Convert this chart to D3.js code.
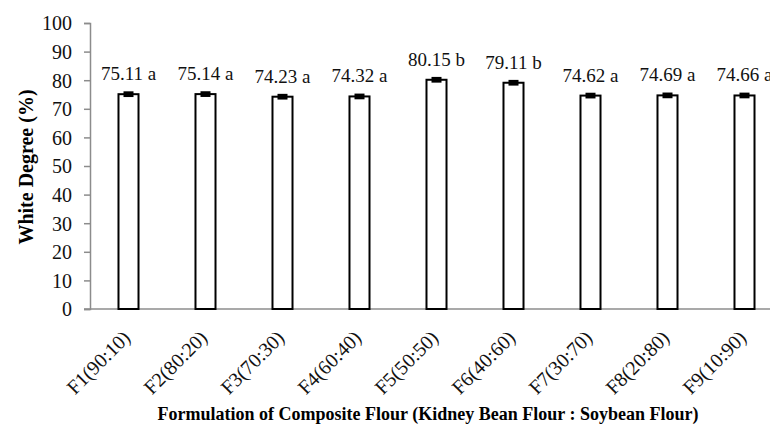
<!DOCTYPE html>
<html>
<head>
<meta charset="utf-8">
<script src="https://cdn.jsdelivr.net/npm/d3@7"></script>
<style>
  html, body { margin: 0; padding: 0; background: #fff; }
  svg { display: block; }
</style>
</head>
<body>
<svg id="chart" width="770" height="432"></svg>
<script>
// Whiteness of composite flour formulations
const categories = ["F1(90:10)", "F2(80:20)", "F3(70:30)", "F4(60:40)", "F5(50:50)",
                    "F6(40:60)", "F7(30:70)", "F8(20:80)", "F9(10:90)"];
const values = [75.11, 75.14, 74.23, 74.32, 80.15, 79.11, 74.62, 74.69, 74.66];
const errors = [1.0, 1.0, 1.0, 1.0, 1.0, 1.0, 1.0, 1.0, 1.0];
const letters = ["a", "a", "a", "a", "b", "b", "a", "a", "a"];
const yTicks = [0, 10, 20, 30, 40, 50, 60, 70, 80, 90, 100];

const FONT = "'Liberation Serif', 'Times New Roman', serif";
const svg = d3.select("#chart");
const plotLeft = 90, plotRight = 783, plotTop = 23, plotBottom = 309;

const x = d3.scaleBand().domain(categories).range([plotLeft, plotRight])
  .paddingInner(0.74).paddingOuter(0.37);
const y = d3.scaleLinear().domain([0, 100]).range([plotBottom, plotTop]);

const axisColor = "#8c8c8c";

// y axis
const yAxis = svg.append("g").attr("transform", `translate(${plotLeft},0)`)
  .call(d3.axisLeft(y).tickValues(yTicks).tickSize(6).tickPadding(12));
yAxis.attr("font-family", FONT);
yAxis.select(".domain").attr("stroke", axisColor).attr("stroke-width", 1.5);
yAxis.selectAll(".tick line").attr("stroke", axisColor).attr("stroke-width", 1.5);
yAxis.selectAll(".tick text").attr("font-size", 20).attr("fill", "#111")
  .attr("font-family", FONT).attr("dy", "0.34em");

// x axis
const xAxis = svg.append("g").attr("transform", `translate(0,${plotBottom})`)
  .call(d3.axisBottom(x).tickSize(0).tickSizeOuter(0));
xAxis.attr("font-family", FONT);
xAxis.select(".domain").remove();
svg.append("line")
  .attr("x1", plotLeft - 6).attr("x2", plotRight)
  .attr("y1", plotBottom).attr("y2", plotBottom)
  .attr("stroke", axisColor).attr("stroke-width", 1.5);
xAxis.selectAll(".tick text")
  .attr("font-size", 20).attr("fill", "#111").attr("font-family", FONT)
  .attr("text-anchor", "end")
  .attr("x", 0).attr("y", 0).attr("dy", 0)
  .attr("transform", "translate(3,30) rotate(-45)");

// bars
svg.append("g").selectAll("rect").data(values).join("rect")
  .attr("x", (d, i) => x(categories[i]))
  .attr("y", d => y(d))
  .attr("width", x.bandwidth())
  .attr("height", d => y(0) - y(d))
  .attr("fill", "#fff")
  .attr("stroke", "#000")
  .attr("stroke-width", 2);

// error bars
svg.append("g").selectAll("rect").data(values).join("rect")
  .attr("x", (d, i) => x(categories[i]) + x.bandwidth() / 2 - 5)
  .attr("y", (d, i) => y(d + errors[i]))
  .attr("width", 10)
  .attr("height", (d, i) => y(d - errors[i]) - y(d + errors[i]))
  .attr("fill", "#000");

// value labels
svg.append("g").selectAll("text").data(values).join("text")
  .attr("x", (d, i) => x(categories[i]) + x.bandwidth() / 2)
  .attr("y", d => y(d) - 14)
  .attr("text-anchor", "middle")
  .attr("font-family", FONT)
  .attr("font-size", 19)
  .attr("fill", "#111")
  .text((d, i) => d.toFixed(2) + " " + letters[i]);

// axis titles
svg.append("text")
  .attr("transform", "translate(33,167) rotate(-90)")
  .attr("text-anchor", "middle")
  .attr("font-family", FONT)
  .attr("font-size", 20).attr("font-weight", "bold")
  .text("White Degree (%)");

svg.append("text")
  .attr("x", 428).attr("y", 420)
  .attr("text-anchor", "middle")
  .attr("font-family", FONT)
  .attr("font-size", 18).attr("font-weight", "bold")
  .text("Formulation of Composite Flour (Kidney Bean Flour : Soybean Flour)");
</script>
</body>
</html>
